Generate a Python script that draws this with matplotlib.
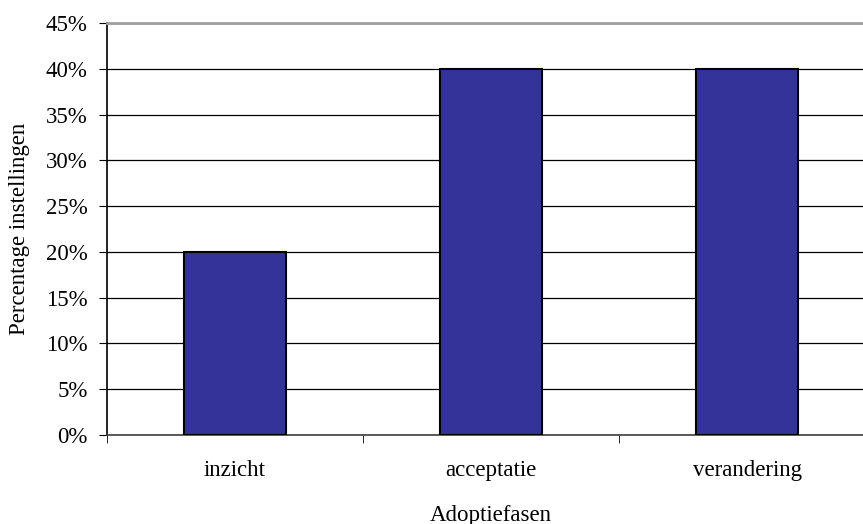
import numpy as np
import matplotlib.pyplot as plt
from matplotlib.ticker import FuncFormatter

# Adoptiefasen van de instellingen
phases = ["inzicht", "acceptatie", "verandering"]
share = [20, 40, 40]  # percentage instellingen
yticks = list(range(0, 50, 5))

plt.rcParams["font.family"] = ["Liberation Serif", "DejaVu Serif"]
FS = 16.5

fig = plt.figure(figsize=(8.63, 5.24), dpi=100)
# plot area runs slightly past the right edge of the canvas
ax = fig.add_axes([107 / 863, 1 - 435 / 524, 768 / 863, 412 / 524])

x = np.arange(len(phases))
ax.bar(x, share, width=0.4, color="#333399", edgecolor="black", linewidth=1.5, zorder=3)

ax.set_xlim(-0.5, len(phases) - 0.5)
ax.set_ylim(0, 45)
ax.set_yticks(yticks)
ax.yaxis.set_major_formatter(FuncFormatter(lambda v, _: f"{v:.0f}%"))
ax.set_xticks(x)
ax.set_xticklabels(phases)
# category boundaries
ax.set_xticks([-0.5, 0.5, 1.5], minor=True)
ax.tick_params(axis="x", which="major", length=0, pad=18, labelsize=FS)
ax.tick_params(axis="x", which="minor", length=6, direction="out", color="black")
ax.tick_params(axis="y", length=6, direction="out", labelsize=FS, pad=8)

ax.grid(axis="y", color="black", linewidth=0.9, zorder=0)
ax.spines["right"].set_visible(False)
ax.spines["top"].set_color("#a0a0a0")
ax.spines["top"].set_linewidth(2)
ax.spines["left"].set_linewidth(1.2)
ax.spines["bottom"].set_linewidth(1.2)
ax.spines["bottom"].set_color("#404040")

ax.set_ylabel("Percentage instellingen", fontsize=FS)
ax.set_xlabel("Adoptiefasen", fontsize=FS)
ax.yaxis.set_label_coords(-(107 - 20) / 768, 0.5)
ax.xaxis.set_label_coords(0.5, -(515 - 435) / 412)
ax.xaxis.label.set_va("center")
ax.yaxis.label.set_va("center")

fig.savefig("out.png", dpi=100)
